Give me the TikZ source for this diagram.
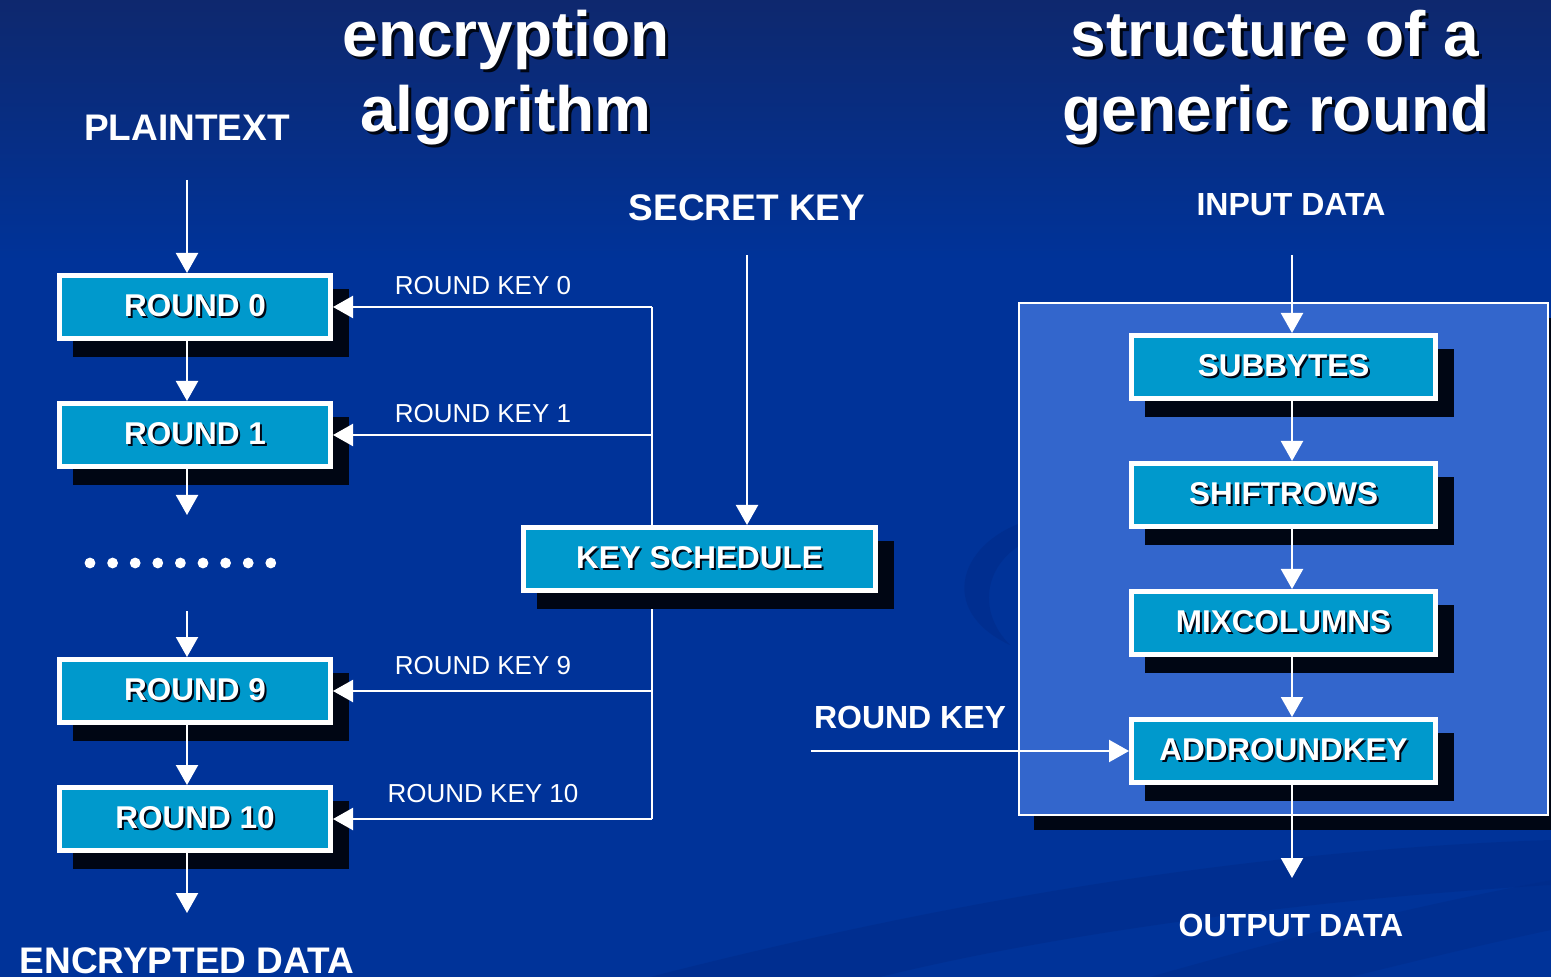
\documentclass[tikz,border=0pt]{standalone}
\usepackage{fontspec}
\setmainfont{Liberation Sans}
\usetikzlibrary{arrows.meta,shadows}

\definecolor{bgc}{RGB}{0,51,153}
\definecolor{bgtop}{RGB}{14,40,110}
\definecolor{bgdark}{RGB}{0,44,138}
\definecolor{boxc}{RGB}{0,153,204}
\definecolor{panelc}{RGB}{51,102,204}
\definecolor{shadc}{RGB}{0,6,20}

% text with a small dark drop shadow
\newcommand\shd[2][1pt]{\leavevmode\rlap{\hspace{#1}\raisebox{-#1}{\color{shadc}#2}}#2}

\tikzset{
  blk/.style={draw=white, line width=2.5pt, fill=boxc, inner sep=0pt,
    minimum height=31.5pt, text=white,
    font=\fontsize{15.75pt}{18pt}\selectfont\bfseries,
    drop shadow={shadow xshift=7.75pt, shadow yshift=-8pt, opacity=1,
      fill=shadc, draw=shadc, line width=2.5pt}},
  roundbox/.style={blk, minimum width=135.5pt},
  stagebox/.style={blk, minimum width=152pt},
  conn/.style={draw=white, line width=1.1pt},
  arr/.style={conn, -{Triangle[width=11pt,length=10pt]}},
  title/.style={text=white, inner sep=0pt, anchor=base, font=\fontsize{32pt}{37pt}\selectfont\bfseries},
  biglabel/.style={text=white, inner sep=0pt, font=\fontsize{18.5pt}{22pt}\selectfont\bfseries},
  midlabel/.style={text=white, inner sep=0pt, font=\fontsize{16pt}{19pt}\selectfont\bfseries},
  keylabel/.style={text=white, inner sep=0pt, font=\fontsize{13pt}{15pt}\selectfont},
}

\begin{document}
\begin{tikzpicture}[x=0.5pt, y=-0.5pt]
\useasboundingbox (0,0) rectangle (1551,977);

% background
\fill[bgc] (0,0) rectangle (1551,977);
\shade[top color=bgtop, bottom color=bgc] (0,0) rectangle (1551,260);
\begin{scope}
  \clip (0,0) rectangle (1551,977);
  \fill[bgdark, opacity=0.6] (1030,520) .. controls (960,540) and (935,610) .. (1010,645)
     .. controls (975,610) and (985,560) .. (1030,540) -- cycle;
  \fill[bgdark, opacity=0.6] (650,977) .. controls (950,900) and (1250,850) .. (1551,840)
     -- (1551,885) .. controls (1300,900) and (1050,935) .. (880,977) -- cycle;
  \fill[bgdark, opacity=0.5] (1150,977) .. controls (1350,920) and (1450,900) .. (1551,880)
     -- (1551,930) .. controls (1480,945) and (1420,960) .. (1350,977) -- cycle;
\end{scope}

% titles
\node[title] at (506,57) {\shd[1.5pt]{encryption}};
\node[title] at (506,132) {\shd[1.5pt]{algorithm}};
\node[title] at (1275,57) {\shd[1.5pt]{structure of a}};
\node[title] at (1276,132) {\shd[1.5pt]{generic round}};

% ---------------- encryption algorithm ----------------
\coordinate (lx) at (187,0);
\coordinate (kx) at (652,0);
\coordinate (ptin) at (187,180);
\coordinate (dotsin) at (187,515);
\coordinate (dotsout) at (187,611);
\coordinate (encout) at (187,913);
\coordinate (skin) at (747,255);

\node[biglabel] (pt) at (187,128) {PLAINTEXT};
\node[biglabel] (sk) at (747,208) {SECRET KEY};
\node[biglabel] (enc) at (187,961) {ENCRYPTED DATA};

% key distribution line (behind the key schedule box)
\coordinate (k0) at (652,307);
\coordinate (k10) at (652,819);
\draw[conn] (k0) -- (k10);

\node[roundbox] (b0) at (195,307) {\shd{ROUND 0}};
\node[roundbox] (b1) at (195,435) {\shd{ROUND 1}};
\node[roundbox] (b9) at (195,691) {\shd{ROUND 9}};
\node[roundbox] (b10) at (195,819) {\shd{ROUND 10}};
\node[blk, minimum width=176pt] (ks) at (699.5,559) {\shd{KEY SCHEDULE}};

\draw[arr] (ptin) -- (lx |- b0.north);
\draw[arr] (lx |- b0.south) -- (lx |- b1.north);
\draw[arr] (lx |- b1.south) -- (dotsin);
\draw[arr] (dotsout) -- (lx |- b9.north);
\draw[arr] (lx |- b9.south) -- (lx |- b10.north);
\draw[arr] (lx |- b10.south) -- (encout);

\foreach \i in {0,...,8}
  \fill[white] (90+\i*22.6,563) circle[radius=2.7pt];

\draw[arr] (skin) -- (skin |- ks.north);

\draw[arr] (kx |- b0.east) -- (b0.east);
\draw[arr] (kx |- b1.east) -- (b1.east);
\draw[arr] (kx |- b9.east) -- (b9.east);
\draw[arr] (kx |- b10.east) -- (b10.east);

\node[keylabel] at (483,286) {ROUND KEY 0};
\node[keylabel] at (483,414) {ROUND KEY 1};
\node[keylabel] at (483,666) {ROUND KEY 9};
\node[keylabel] at (483,794) {ROUND KEY 10};

% ---------------- generic round ----------------
\coordinate (rx) at (1292,0);
\coordinate (inin) at (1292,255);
\coordinate (outout) at (1292,878);
\coordinate (rkin) at (811,751);

\fill[shadc] (1034,318) rectangle (1563,830);
\draw[white, line width=1pt, fill=panelc] (1019,303) rectangle (1548,815);

\node[midlabel] (ind) at (1291,205) {INPUT DATA};
\node[midlabel] (outd) at (1291,925) {OUTPUT DATA};
\node[midlabel] (rk) at (910,717) {ROUND KEY};

\node[stagebox] (s1) at (1283.5,367) {\shd{SUBBYTES}};
\node[stagebox] (s2) at (1283.5,495) {\shd{SHIFTROWS}};
\node[stagebox] (s3) at (1283.5,623) {\shd{MIXCOLUMNS}};
\node[stagebox] (s4) at (1283.5,751) {\shd{ADDROUNDKEY}};

\draw[arr] (inin) -- (rx |- s1.north);
\draw[arr] (rx |- s1.south) -- (rx |- s2.north);
\draw[arr] (rx |- s2.south) -- (rx |- s3.north);
\draw[arr] (rx |- s3.south) -- (rx |- s4.north);
\draw[arr] (rx |- s4.south) -- (outout);
\draw[arr] (rkin) -- (s4.west);
\end{tikzpicture}
\end{document}
